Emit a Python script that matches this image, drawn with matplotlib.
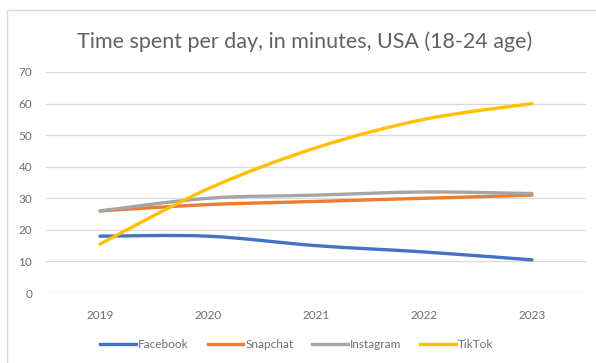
import matplotlib
matplotlib.use("Agg")
import matplotlib.pyplot as plt
from matplotlib.path import Path
from matplotlib.patches import PathPatch, Rectangle
from matplotlib.lines import Line2D
import numpy as np

plt.rcParams['font.family'] = ['Lato', 'DejaVu Sans']

years = ['2019', '2020', '2021', '2022', '2023']
facebook = [18, 18, 15, 13, 10.5]
snapchat = [26, 28, 29, 30, 31]
instagram = [26, 30, 31, 32, 31.5]
tiktok = [15.5, 33, 46, 55, 60]

series = [
    ('Facebook', facebook, '#4472C4'),
    ('Snapchat', snapchat, '#ED7D31'),
    ('Instagram', instagram, '#A5A5A5'),
    ('TikTok', tiktok, '#FFC000'),
]


def smooth_path(xs, ys):
    # bezier-kurve wie bei Excel "geglaettete Linie" (catmull-rom)
    pts = np.column_stack([xs, ys]).astype(float)
    verts = [pts[0]]
    codes = [Path.MOVETO]
    n = len(pts)
    for k in range(n - 1):
        p0 = pts[k - 1] if k > 0 else pts[k]
        p1 = pts[k]
        p2 = pts[k + 1]
        p3 = pts[k + 2] if k + 2 < n else pts[k + 1]
        c1 = p1 + (p2 - p0) / 6
        c2 = p2 - (p3 - p1) / 6
        verts += [c1, c2, p2]
        codes += [Path.CURVE4] * 3
    return Path(verts, codes)


W, H = 596, 363
fig = plt.figure(figsize=(W / 100, H / 100), dpi=100)

# rahmen des diagramms
fig.patches.append(Rectangle((7 / W, -0.05), 1.0, (H - 10) / H + 0.05,
                             transform=fig.transFigure, fill=False,
                             edgecolor='#D9D9D9', linewidth=1))

ax = fig.add_axes([46 / W, 70 / H, 540 / W, 221 / H])
x = np.arange(len(years))

for name, vals, color in series:
    patch = PathPatch(smooth_path(x, vals), facecolor='none', edgecolor=color,
                      linewidth=2.4, capstyle='round', zorder=3)
    ax.add_patch(patch)

ax.set_xlim(-0.5, len(years) - 0.5)
ax.set_ylim(0, 70)
ax.set_yticks(range(0, 71, 10))
ax.set_xticks(x)
ax.set_xticklabels(years)
ax.grid(axis='y', color='#D9D9D9', linewidth=0.9)
ax.set_axisbelow(True)
for s in ax.spines.values():
    s.set_visible(False)
ax.tick_params(axis='both', length=0, colors='#6E6E6E', labelsize=8.5)
ax.tick_params(axis='x', pad=12)
ax.tick_params(axis='y', pad=10)

fig.text(305 / W, 1 - 42 / H, 'Time spent per day, in minutes, USA (18-24 age)',
         ha='center', va='center', fontsize=15.5, color='#626262')

handles = [Line2D([], [], color=c, linewidth=2.4) for _, _, c in series]
fig.legend(handles, [n for n, _, _ in series], loc='center',
           bbox_to_anchor=(297 / W, 1 - 345 / H), ncol=4, frameon=False,
           fontsize=8.5, labelcolor='#6E6E6E', handlelength=3.0,
           handletextpad=0.2, columnspacing=1.6)

fig.savefig('out.png', dpi=100)
